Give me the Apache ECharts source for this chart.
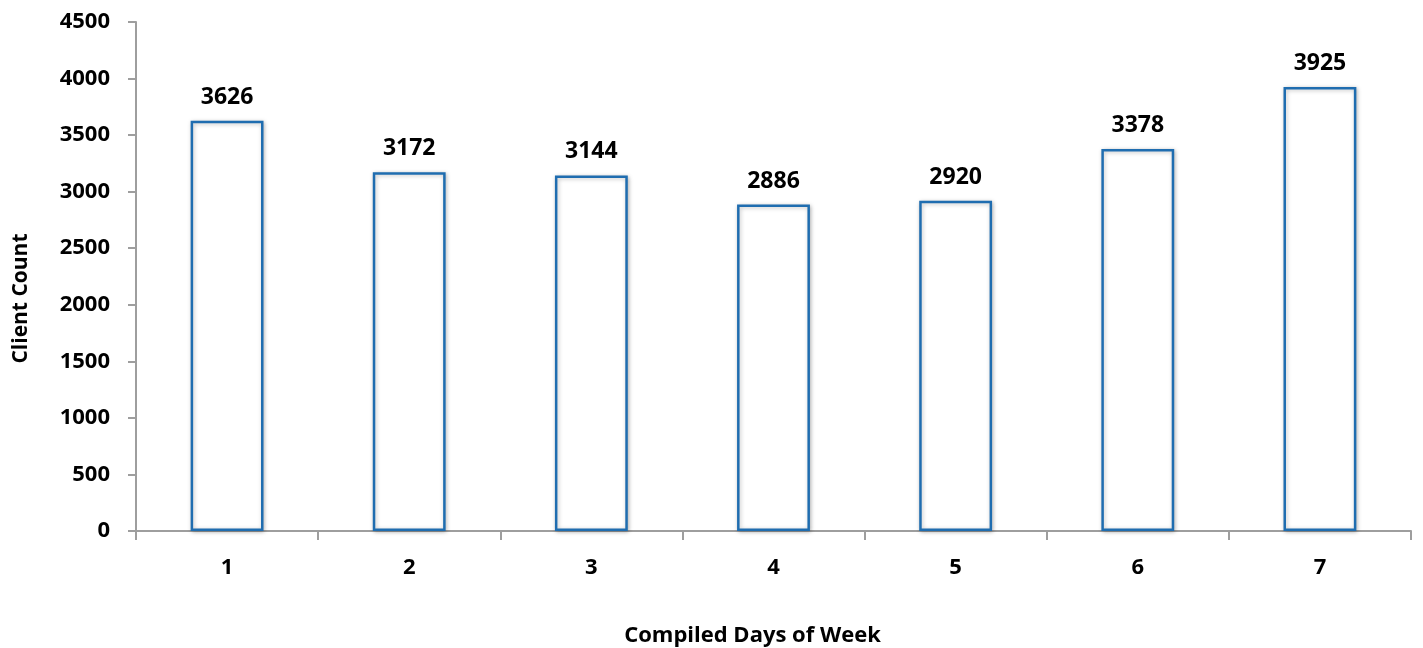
<!DOCTYPE html>
<html style="height: 100%">
<head>
    <title>Client Count</title>
    <meta charset="utf-8">
</head>
<body style="height: 100%; margin: 0; background: #fff">
<div id="container" style="height:648px;width:1423px"></div>
<script src="https://cdn.jsdelivr.net/npm/echarts@6/dist/echarts.min.js"></script>
<script type="text/javascript">
    var days = ['1', '2', '3', '4', '5', '6', '7'];
    var clients = [3626, 3172, 3144, 2886, 2920, 3378, 3925];

    var font = '"Open Sans", "Noto Sans", sans-serif';
    var myChart = echarts.init(document.getElementById('container'));
    myChart.setOption({
        animation: false,
        grid: {left: 136, right: 12, top: 22, bottom: 117, outerBoundsMode: 'none'},
        xAxis: {
            type: 'category',
            data: days,
            name: 'Compiled Days of Week',
            nameLocation: 'middle',
            nameGap: 94,
            nameTextStyle: {fontFamily: font, fontWeight: 'bold', fontSize: 22, color: '#000', padding: [0, 42, 0, 0]},
            axisLine: {lineStyle: {color: '#9e9e9e', width: 2}},
            axisTick: {show: true, length: 9, lineStyle: {color: '#9e9e9e', width: 2}},
            axisLabel: {fontFamily: font, fontWeight: 'bold', fontSize: 22, color: '#000', margin: 26}
        },
        yAxis: {
            type: 'value',
            min: 0,
            max: 4500,
            interval: 500,
            name: 'Client Count',
            nameLocation: 'middle',
            nameGap: 104,
            nameTextStyle: {fontFamily: font, fontWeight: 'bold', fontSize: 21, color: '#000', padding: [0, 44, 0, 0]},
            axisLine: {show: true, lineStyle: {color: '#9e9e9e', width: 2}},
            axisTick: {show: true, length: 8, lineStyle: {color: '#9e9e9e', width: 2}},
            splitLine: {show: false},
            axisLabel: {
                fontFamily: font, fontWeight: 'bold', fontSize: 22, color: '#000', margin: 26,
                formatter: function (v) { return String(v); }
            }
        },
        series: [{
            type: 'bar',
            data: clients,
            barWidth: '40%',
            itemStyle: {
                color: '#ffffff',
                borderColor: '#1f6db0',
                borderWidth: 2.5,
                shadowColor: 'rgba(0,0,0,0.25)',
                shadowBlur: 4,
                shadowOffsetX: 1,
                shadowOffsetY: 1
            },
            label: {
                show: true,
                position: 'top',
                distance: 12,
                fontFamily: font,
                fontWeight: 'bold',
                fontSize: 23,
                color: '#000'
            }
        }]
    });
</script>
</body>
</html>
